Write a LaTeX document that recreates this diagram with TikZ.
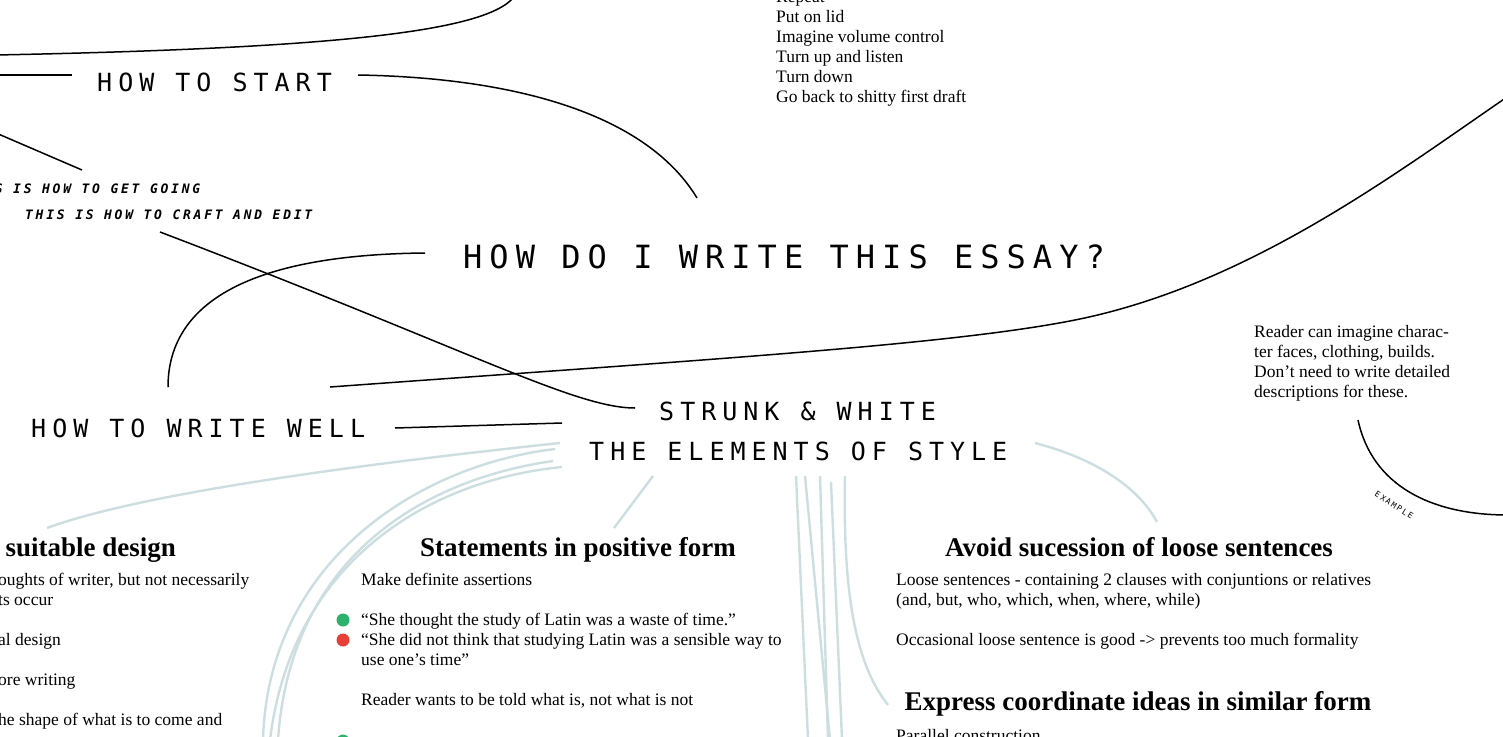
\documentclass[tikz,border=0pt]{standalone}
\usepackage{fontspec}
\setmainfont{Liberation Serif}
\newfontfamily\capsfont[LetterSpace=24]{DejaVu Sans Mono}
\newfontfamily\bigcapsfont[LetterSpace=22]{DejaVu Sans Mono}
\newfontfamily\asidefont[LetterSpace=21]{DejaVu Sans Mono}
\definecolor{twigblue}{RGB}{204,222,224}
\definecolor{okgreen}{RGB}{44,178,106}
\definecolor{badred}{RGB}{233,63,57}
\usetikzlibrary{positioning}

\begin{document}
\begin{tikzpicture}[x=1pt, y=-1pt,
  topic/.style={font=\capsfont\fontsize{25}{30}\selectfont, inner sep=0pt, anchor=base west},
  bigtopic/.style={font=\bigcapsfont\fontsize{32}{38}\selectfont, inner sep=0pt, anchor=base west},
  aside/.style={font=\asidefont\bfseries\itshape\fontsize{13}{15}\selectfont, inner sep=0pt, anchor=base west},
  heading/.style={font=\bfseries\fontsize{27}{30}\selectfont, inner sep=0pt, anchor=base},
  body/.style={font=\fontsize{17.5}{20}\selectfont, inner sep=0pt, anchor=base west, align=left},
  dot/.style={circle, fill=#1, inner sep=0pt, minimum size=13pt},
  link/.style={line width=1.5pt},
  twig/.style={line width=2.4pt, twigblue},
]
\useasboundingbox (0,0) rectangle (1503,736);
\clip (0,0) rectangle (1503,736);

% top list (base = last line)
\node[body] (lid) at (776,102) {Repeat\\Put on lid\\Imagine volume control\\Turn up and listen\\Turn down\\Go back to shitty first draft};

% topics
\node[topic] (start) at (97,91) {HOW TO START};
\node[aside] (going) at (-37,193) {THIS IS HOW TO GET GOING};
\node[aside] (craft) at (25,219) {THIS IS HOW TO CRAFT AND EDIT};
\node[bigtopic] (essay) at (463,268) {HOW DO I WRITE THIS ESSAY?};
\node[topic] (well) at (31,437) {HOW TO WRITE WELL};
\node[topic] (strunk) at (659,420) {STRUNK \& WHITE};
\node[topic] (elements) at (589,460) {THE ELEMENTS OF STYLE};

% side note
\node[body] (faces) at (1254,397) {Reader can imagine charac-\\ter faces, clothing, builds.\\Don’t need to write detailed\\descriptions for these.};
\node[font=\asidefont\fontsize{8}{9}\selectfont, rotate=-33, inner sep=0pt] (example) at (1394,505) {EXAMPLE};

% rule cards
\node[heading, anchor=base east] (design) at (176,556) {suitable design};
\node[body] (designtxt) at (-2,725) {oughts of writer, but not necessarily\\ts occur\\[20pt]al design\\[20pt]ore writing\\[20pt]he shape of what is to come and};

\node[heading] (positive) at (578,556) {Statements in positive form};
\node[body] (definite) at (361,585) {Make definite assertions};
\node[dot=okgreen] (good1) at (343,620) {};
\node[body] (latin1) at (361,625) {“She thought the study of Latin was a waste of time.”};
\node[dot=badred] (bad1) at (343,640) {};
\node[body] (latin2) at (361,665) {“She did not think that studying Latin was a sensible way to\\use one’s time”};
\node[body] (toldwhat) at (361,705) {Reader wants to be told what is, not what is not};
\node[dot=okgreen] (good2) at (343,741) {};

\node[heading] (loose) at (1139,556) {Avoid sucession of loose sentences};
\node[body] (loosetxt) at (896,645) {Loose sentences - containing 2 clauses with conjuntions or relatives\\(and, but, who, which, when, where, while)\\[20pt]Occasional loose sentence is good -> prevents too much formality};
\node[heading] (similar) at (1138,710) {Express coordinate ideas in similar form};
\node[body] (parallel) at (896,741) {Parallel construction};

% connector ends
\coordinate (topL) at (-4,55);
\coordinate (topR) at (516,-6);
\coordinate (startL) at (-4,75);
\coordinate (startR) at (72,75);
\coordinate (startout) at (358,75);
\coordinate (essayin) at (697,198);
\coordinate (goingL) at (-4,133);
\coordinate (goingR) at (82,170);
\coordinate (craftout) at (160,232);
\coordinate (strunkin) at (635,408);
\coordinate (essayout) at (425,253);
\coordinate (wellup) at (168,387);
\coordinate (wellout) at (330,387);
\coordinate (bend) at (1075,320);
\coordinate (offR) at (1510,95);
\coordinate (wellR) at (395,428);
\coordinate (strunkL) at (562,423);
\coordinate (exampleT) at (1358,420);
\coordinate (exampleR) at (1508,515);
\coordinate (positivein) at (614,528);
\coordinate (looseIn) at (1157,522);
\coordinate (similarin) at (888,705);
\coordinate (designin) at (47,528);

% black links
\draw[link] (topL) .. controls (350,48) and (495,30) .. (topR);
\draw[link] (startL) -- (startR);
\draw[link] (startout) .. controls (530,78) and (650,120) .. (essayin);
\draw[link] (goingL) -- (goingR);
\draw[link] (craftout) .. controls (470,350) and (575,408) .. (strunkin);
\draw[link] (essayout) .. controls (220,255) and (168,320) .. (wellup);
\draw[link] (wellout) .. controls (700,360) and (950,345) .. (bend)
  .. controls (1250,285) and (1400,170) .. (offR);
\draw[link] (wellR) -- (strunkL);
\draw[link] (exampleT) .. controls (1372,485) and (1430,515) .. (exampleR);

% pale branches out of the elements of style
\draw[twig] (560,443) .. controls (400,460) and (150,490) .. (designin);
\draw[twig] (555,449) .. controls (420,465) and (268,560) .. (263,740);
\draw[twig] (553,461) .. controls (420,480) and (290,560) .. (278,740);
\draw[twig] (562,467) .. controls (430,480) and (292,560) .. (270,740);
\draw[twig] (653,476) -- (positivein);
\draw[twig] (796,476) -- (808,740);
\draw[twig] (805,476) -- (830,740);
\draw[twig] (820,476) -- (828,740);
\draw[twig] (831,482) -- (842,740);
\draw[twig] (845,476) .. controls (843,580) and (852,660) .. (similarin);
\draw[twig] (1035,443) .. controls (1100,460) and (1140,490) .. (looseIn);
\end{tikzpicture}
\end{document}
